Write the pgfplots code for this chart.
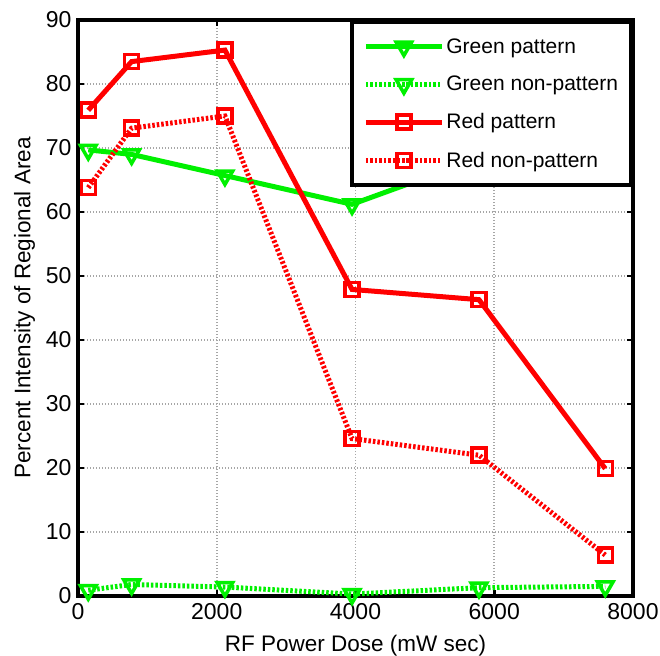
\documentclass[border=0pt]{standalone}
\usepackage{fontspec}
\setmainfont{Liberation Sans}
\usepackage{pgfplots}
\pgfplotsset{compat=1.18}

\definecolor{pgreen}{RGB}{0,240,0}
\definecolor{pred}{RGB}{255,0,0}

\begin{document}
\begin{tikzpicture}
\begin{axis}[
  scale only axis,
  width=555bp, height=576bp,
  xmin=0, xmax=8000, ymin=0, ymax=90,
  xtick={0,2000,4000,6000,8000},
  ytick={0,10,...,90},
  /pgf/number format/assume math mode=true,
  scaled x ticks=false,
  xticklabel style={/pgf/number format/1000 sep={}, yshift=-4bp},
  yticklabel style={xshift=-3bp},
  tick label style={font=\fontsize{23bp}{26bp}\selectfont, black},
  label style={font=\fontsize{22.5bp}{26bp}\selectfont},
  xlabel={RF Power Dose (mW sec)},
  ylabel={Percent Intensity of Regional Area},
  xlabel style={yshift=-9bp},
  ylabel style={yshift=4bp},
  axis line style={line width=4.5bp, black},
  major tick length=6bp,
  every tick/.style={black, line width=2.5bp},
  grid=major,
  major grid style={gray!70, line width=1.6bp, dash pattern=on 1.5bp off 1.5bp},
  clip=false,
  legend style={
    at={(1,1)}, anchor=north east,
    draw=black, line width=4bp, fill=white,
    font=\fontsize{21bp}{24bp}\selectfont,
    inner xsep=11bp, inner ysep=14.5bp,
    row sep=17.5bp,
    cells={anchor=west},
  },
  legend image code/.code={
    \draw[mark repeat=2, mark phase=2]
      plot coordinates {(0bp,0bp) (38bp,0bp) (76bp,0bp)};
  },
  every axis plot/.append style={line width=5bp},
  trimark/.style={mark=triangle, mark size=9bp,
    mark options={solid, rotate=180, fill=white, line width=3.5bp}},
  sqmark/.style={mark=square, mark size=7bp,
    mark options={solid, fill=white, line width=3.5bp}},
  dotline/.style={dash pattern=on 2.5bp off 2bp},
]

% Green channel, patterned region
\addplot[pgreen, trimark] coordinates {
  (148,69.7) (773,69.0) (2118,65.7) (3950,61.2) (5780,68.4) (7600,71.0)
};
\addlegendentry{Green pattern}

% Green channel, non-patterned region
\addplot[pgreen, trimark, dotline] coordinates {
  (148,0.9) (773,1.8) (2118,1.4) (3950,0.3) (5780,1.3) (7600,1.5)
};
\addlegendentry{Green non-pattern}

% Red channel, patterned region
\addplot[pred, sqmark] coordinates {
  (148,75.9) (773,83.5) (2118,85.3) (3950,47.9) (5780,46.3) (7600,19.9)
};
\addlegendentry{Red pattern}

% Red channel, non-patterned region
\addplot[pred, sqmark, dotline] coordinates {
  (148,63.8) (773,73.1) (2118,75.0) (3950,24.6) (5780,22.0) (7600,6.4)
};
\addlegendentry{Red non-pattern}

\end{axis}
\pgfresetboundingbox
\path (current axis.south west) ++(-78bp,-60bp) coordinate (bbsw);
\path (current axis.north east) ++(27bp,20bp) coordinate (bbne);
\useasboundingbox (bbsw) rectangle (bbne);
\end{tikzpicture}
\end{document}
